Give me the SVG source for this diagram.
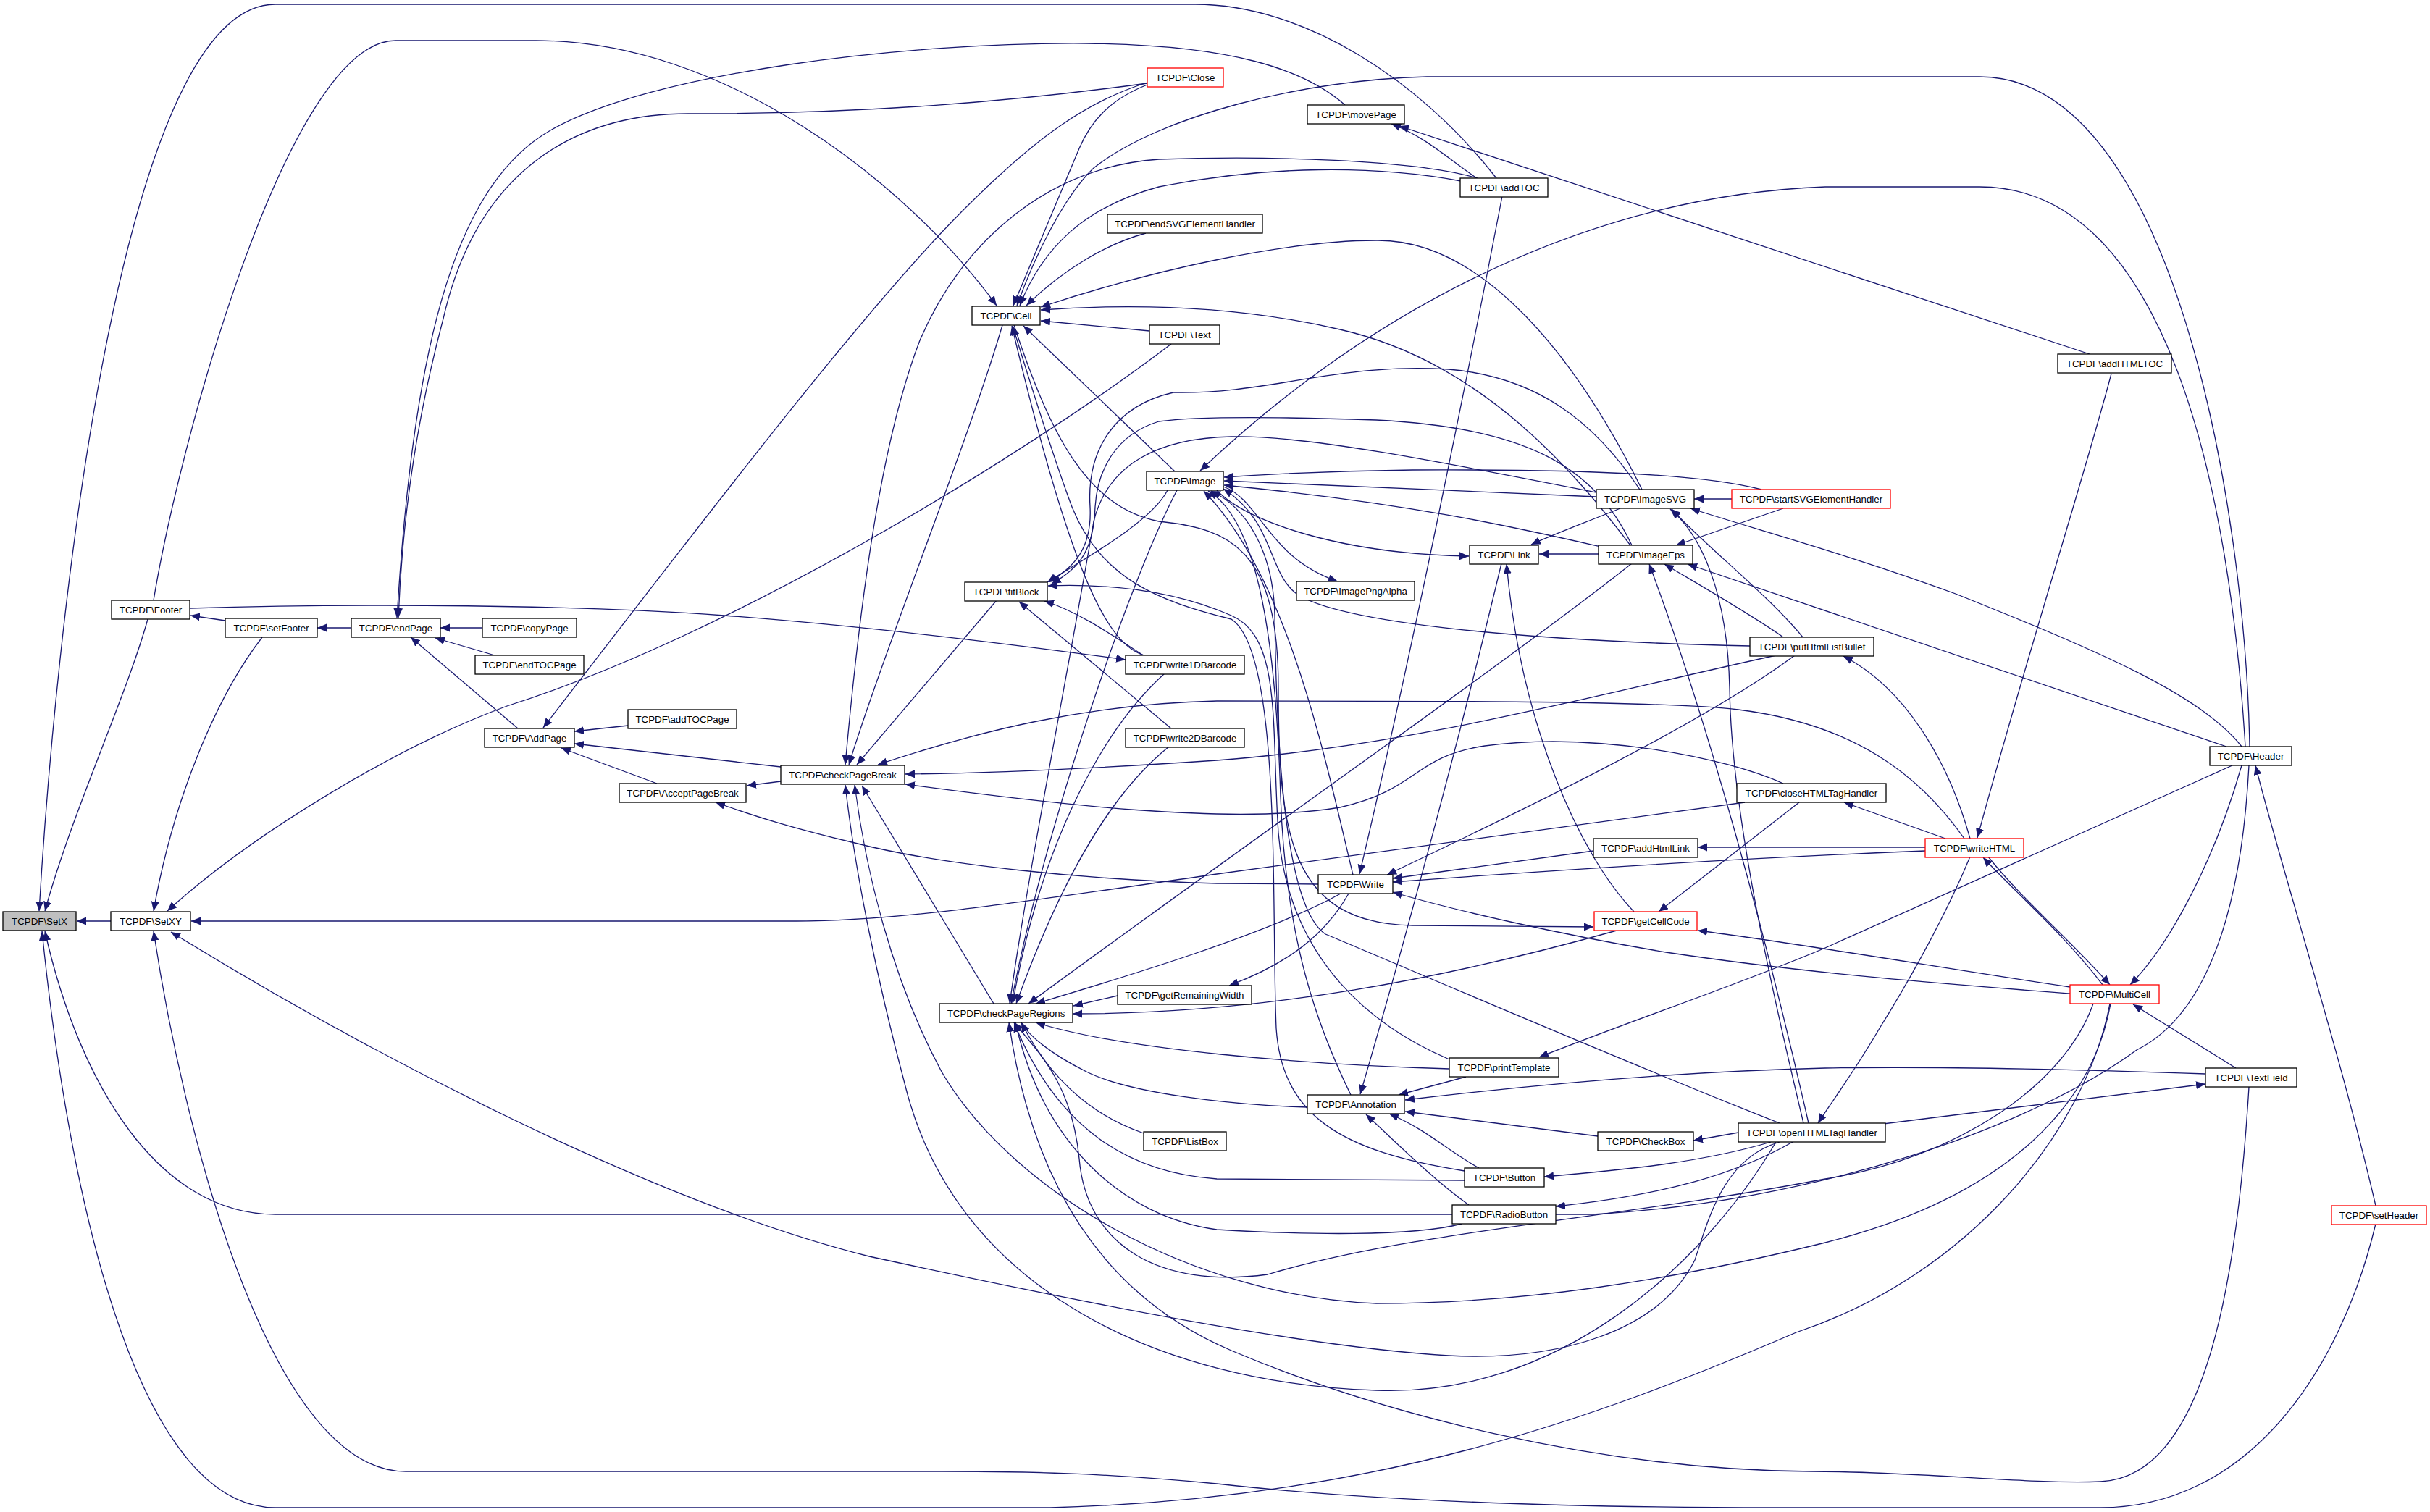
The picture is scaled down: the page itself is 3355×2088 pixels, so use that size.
<svg xmlns="http://www.w3.org/2000/svg" width="3355" height="2088" viewBox="0 0 3355 2088">
<defs>
<marker id="a" markerUnits="userSpaceOnUse" markerWidth="14" markerHeight="12" refX="13" refY="5.5" orient="auto" viewBox="0 0 14 12"><path d="M0,0 L13,5.5 L0,11 z" fill="#191970"/></marker>
<style>
.n rect{fill:#fff;stroke:#000;stroke-width:1.3}
.r rect{fill:#fff;stroke:#ff0000;stroke-width:1.3}
.g rect{fill:#bfbfbf;stroke:#000;stroke-width:1.3}
text{font-family:"Liberation Sans",Arial,sans-serif;font-size:13.3px;text-anchor:middle;fill:#000}
#edges path{fill:none;stroke:#191970;stroke-width:1.3;marker-end:url(#a)}
</style>
</defs>
<rect width="3355" height="2088" fill="#fff"/>
<g id="edges">
<path d="M153,1272 L106,1272"/>
<path d="M204,855 C175,960 100,1120 62,1258"/>
<path d="M2066,246 C1960,110 1800,6 1650,6 L380,6 C160,6 75,900 54,1258"/>
<path d="M3105,1057 C3095,1250 3050,1400 2950,1450 C2800,1560 2500,1660 2200,1677 L380,1677 C220,1677 110,1500 62,1286"/>
<path d="M2913,1386 C2880,1560 2720,1760 2480,1840 C2200,1960 1900,2070 1450,2082 L380,2082 C200,2082 100,1700 58,1286"/>
<path d="M3280,1690 C3230,1900 3100,2082 2900,2082 L2450,2082 C2100,2082 1850,2068 1680,2049 C1520,2034 1420,2032 1300,2032 L560,2032 C380,2032 260,1600 212,1286"/>
<path d="M212,829 C250,600 400,56 546,56 L740,56 C1000,56 1250,250 1376,422"/>
<path d="M311,857 L263,850"/>
<path d="M485,867 L438,867"/>
<path d="M666,867 L608,867"/>
<path d="M683,905 L601,881"/>
<path d="M715,1006 L567,880"/>
<path d="M1857,145 C1800,95 1700,62 1500,60 C1250,58 900,100 760,180 C620,260 570,500 548,853"/>
<path d="M1584,115 C1400,140 1200,157 950,157 C800,157 660,230 612,440 C580,560 556,700 550,853"/>
<path d="M362,880 C300,960 240,1100 212,1258"/>
<path d="M1617,475 C1400,640 1000,880 700,975 C550,1030 350,1150 231,1258"/>
<path d="M2409,1108 L1680,1207 C1450,1240 1250,1272 1100,1272 L264,1272"/>
<path d="M2457,1577 C2380,1600 2360,1680 2340,1740 C2290,1840 2150,1880 2000,1872 C1800,1860 1500,1800 1200,1735 C900,1660 500,1450 236,1287"/>
<path d="M1584,117 C1530,138 1505,170 1490,205 L1399,422"/>
<path d="M1584,114 C1500,140 1430,190 1330,290 C1200,420 1000,680 750,1005"/>
<path d="M3106,1031 C3100,700 3000,106 2733,106 L1970,106 C1800,110 1600,160 1510,232 C1470,270 1430,350 1404,422"/>
<path d="M3100,1031 C3080,700 3000,258 2733,258 L2520,258 C2200,270 1900,420 1657,650"/>
<path d="M2017,250 C1900,228 1750,228 1600,258 C1500,285 1440,340 1408,422"/>
<path d="M2040,246 C1950,220 1750,215 1600,220 C1450,230 1330,330 1270,470 C1220,600 1190,800 1167,1056"/>
<path d="M2267,676 C2180,500 2050,330 1900,332 C1780,332 1600,370 1437,424"/>
<path d="M1582,322 C1530,336 1470,370 1417,422"/>
<path d="M2251,753 C2180,660 2050,500 1850,455 C1700,420 1550,420 1437,428"/>
<path d="M1587,457 L1437,443"/>
<path d="M1622,651 L1413,450"/>
<path d="M1384,449 C1340,600 1220,900 1172,1056"/>
<path d="M1400,449 C1450,600 1500,700 1600,720 C1700,730 1765,760 1765,950 C1765,1150 1780,1275 1950,1278 L2200,1280"/>
<path d="M1580,905 C1530,890 1480,800 1397,450"/>
<path d="M1376,829 L1183,1056"/>
<path d="M2712,1158 C2650,1070 2560,1000 2400,980 C2300,968 2000,968 1680,968 C1500,972 1350,1010 1212,1056"/>
<path d="M2452,905 C2200,960 1950,1030 1680,1050 C1500,1062 1350,1068 1250,1069"/>
<path d="M2462,1082 C2380,1045 2200,1010 2050,1030 C1950,1045 1960,1090 1850,1115 C1700,1140 1450,1110 1250,1083"/>
<path d="M2452,1577 C2350,1750 2150,1930 1900,1920 C1600,1910 1320,1780 1250,1500 C1210,1350 1180,1200 1167,1084"/>
<path d="M2914,1386 C2890,1520 2780,1650 2520,1716 C2300,1770 2100,1800 1900,1800 C1650,1790 1400,1650 1300,1480 C1230,1350 1195,1200 1180,1084"/>
<path d="M1372,1386 L1190,1085"/>
<path d="M867,1002 L793,1010"/>
<path d="M1078,1059 L793,1027"/>
<path d="M907,1082 L775,1033"/>
<path d="M1078,1079 L1031,1085"/>
<path d="M1820,1221 L1680,1220 C1500,1215 1300,1195 1180,1164 C1100,1145 1050,1130 988,1108"/>
<path d="M2001,1463 C1900,1420 1780,1330 1765,1150 C1755,1000 1770,880 1700,850 C1620,815 1530,806 1447,809"/>
<path d="M1612,677 C1590,720 1500,770 1446,804"/>
<path d="M2264,676 C2200,580 2120,520 2000,510 C1850,500 1750,545 1620,542 C1540,560 1500,620 1505,700 C1508,760 1480,785 1448,804"/>
<path d="M2253,753 C2200,640 2100,590 1900,580 C1750,575 1650,575 1600,582 C1540,600 1515,650 1512,700 C1510,760 1490,785 1452,806"/>
<path d="M1580,906 C1540,880 1490,845 1442,830"/>
<path d="M1617,1006 L1407,831"/>
<path d="M2432,676 C2350,655 2200,648 1950,649 C1850,650 1750,655 1690,659"/>
<path d="M2204,686 L1690,664"/>
<path d="M2210,755 C2100,730 1950,695 1690,670"/>
<path d="M2416,892 C2100,885 1850,860 1790,820 C1750,790 1760,720 1689,675"/>
<path d="M1868,1208 C1830,1050 1780,800 1662,678"/>
<path d="M1680,677 C1720,720 1850,765 2028,768"/>
<path d="M2237,702 C2180,725 2140,740 2114,752"/>
<path d="M2207,765 L2125,765"/>
<path d="M2256,1259 C2180,1180 2100,1000 2080,779"/>
<path d="M2073,778 C2020,1000 1940,1300 1878,1511"/>
<path d="M2024,1487 L1931,1512"/>
<path d="M3045,1483 C2900,1478 2700,1472 2520,1475 C2300,1480 2100,1500 1940,1519"/>
<path d="M2206,1569 L1940,1535"/>
<path d="M2042,1613 C2000,1590 1970,1560 1918,1538"/>
<path d="M2028,1664 C1980,1630 1930,1580 1886,1539"/>
<path d="M1543,1375 L1482,1389"/>
<path d="M1862,1234 C1830,1290 1780,1330 1697,1361"/>
<path d="M2903,1360 C2850,1290 2780,1230 2738,1184"/>
<path d="M2745,1183 C2790,1240 2860,1300 2913,1360"/>
<path d="M2720,1158 C2690,1050 2630,950 2545,906"/>
<path d="M2686,1158 L2546,1108"/>
<path d="M2658,1170 L2344,1170"/>
<path d="M2658,1175 C2400,1185 2100,1205 1923,1218"/>
<path d="M2915,516 C2880,650 2800,900 2730,1157"/>
<path d="M2885,489 L1932,174"/>
<path d="M2039,246 C2000,220 1970,190 1921,171"/>
<path d="M2720,1183 C2680,1280 2620,1380 2595,1420 C2560,1480 2530,1520 2510,1551"/>
<path d="M2858,1363 C2700,1340 2500,1305 2344,1285"/>
<path d="M2858,1372 C2700,1360 2500,1345 2300,1315 C2150,1290 2000,1255 1923,1232"/>
<path d="M3082,1057 L2520,1309 C2400,1360 2250,1410 2125,1460"/>
<path d="M3095,1057 C3060,1180 3000,1300 2941,1360"/>
<path d="M3095,1031 C3040,960 2900,900 2700,820 C2550,765 2420,730 2334,702"/>
<path d="M3074,1031 L2330,779"/>
<path d="M3280,1665 C3230,1450 3150,1200 3114,1057"/>
<path d="M3087,1475 L2945,1387"/>
<path d="M2600,1552 L3045,1497"/>
<path d="M3105,1501 C3090,1750 3050,2040 2900,2046 C2800,2050 2650,2032 2500,2032 C2200,2030 1900,1950 1700,1865 C1500,1780 1420,1600 1393,1412"/>
<path d="M1579,1565 C1530,1548 1460,1510 1410,1412"/>
<path d="M1805,1529 C1700,1526 1560,1510 1500,1480 C1450,1455 1420,1430 1410,1412"/>
<path d="M2001,1476 C1800,1470 1550,1450 1430,1412"/>
<path d="M2022,1630 L1680,1628 C1560,1620 1460,1560 1400,1412"/>
<path d="M2018,1690 C1950,1708 1800,1705 1680,1698 C1550,1680 1440,1580 1402,1412"/>
<path d="M2890,1386 C2850,1500 2700,1600 2520,1628 C2250,1680 1950,1700 1750,1760 C1600,1780 1500,1720 1490,1600 C1480,1500 1440,1460 1400,1412"/>
<path d="M2484,1108 L2290,1259"/>
<path d="M2232,1285 C2000,1350 1750,1400 1481,1400"/>
<path d="M2253,778 C2100,900 1700,1180 1420,1386"/>
<path d="M2204,680 C2000,640 1800,600 1700,603 C1600,605 1530,640 1510,720 C1480,900 1420,1200 1394,1386"/>
<path d="M1625,677 C1560,800 1440,1150 1396,1386"/>
<path d="M1851,1234 C1750,1290 1550,1350 1430,1386"/>
<path d="M1608,930 C1530,1000 1440,1150 1398,1386"/>
<path d="M1614,1031 C1540,1090 1470,1200 1403,1386"/>
<path d="M1689,672 C1740,690 1750,770 1847,803"/>
<path d="M2391,689 L2339,689"/>
<path d="M2462,702 L2314,753"/>
<path d="M2462,880 C2420,850 2350,810 2298,779"/>
<path d="M2489,880 C2440,820 2350,750 2308,703"/>
<path d="M2478,905 C2350,1000 2100,1120 1915,1208"/>
<path d="M2200,1175 L1923,1213"/>
<path d="M262,840 C500,833 800,835 1000,850 C1200,865 1400,890 1554,911"/>
<path d="M2400,1564 L2338,1575"/>
<path d="M2445,1577 C2350,1605 2250,1615 2132,1625"/>
<path d="M2475,1577 C2400,1620 2300,1650 2148,1666"/>
<path d="M2497,1551 C2440,1300 2360,1000 2277,779"/>
<path d="M2490,1551 C2430,1300 2390,1100 2388,950 C2385,820 2350,740 2306,703"/>
<path d="M2074,271 C2030,500 1950,900 1877,1207"/>
<path d="M2022,1617 C1850,1590 1770,1540 1762,1420 C1755,1250 1770,900 1700,855 C1600,830 1520,800 1480,700 C1450,620 1420,520 1398,450"/>
<path d="M1865,1512 C1820,1420 1775,1300 1768,1100 C1762,900 1740,720 1668,678"/>
<path d="M2457,1551 C2250,1470 1950,1340 1830,1290 C1770,1250 1762,1000 1760,850 C1758,760 1720,700 1672,678"/>
</g>
<g id="n_SetX" class="g"><rect x="4" y="1259" width="101" height="26"/><text x="54.5" y="1276.8">TCPDF\SetX</text></g>
<g id="n_SetXY" class="n"><rect x="153" y="1259" width="110" height="26"/><text x="208" y="1276.8">TCPDF\SetXY</text></g>
<g id="n_Footer" class="n"><rect x="154" y="829" width="108" height="26"/><text x="208" y="846.8">TCPDF\Footer</text></g>
<g id="n_setFooter" class="n"><rect x="311" y="854" width="127" height="26"/><text x="374.5" y="871.8">TCPDF\setFooter</text></g>
<g id="n_endPage" class="n"><rect x="485" y="854" width="123" height="26"/><text x="546.5" y="871.8">TCPDF\endPage</text></g>
<g id="n_copyPage" class="n"><rect x="666" y="854" width="130" height="26"/><text x="731" y="871.8">TCPDF\copyPage</text></g>
<g id="n_endTOCPage" class="n"><rect x="656" y="905" width="150" height="26"/><text x="731" y="922.8">TCPDF\endTOCPage</text></g>
<g id="n_AddPage" class="n"><rect x="669" y="1006" width="124" height="26"/><text x="731" y="1023.8">TCPDF\AddPage</text></g>
<g id="n_addTOCPage" class="n"><rect x="867" y="980" width="150" height="26"/><text x="942" y="997.8">TCPDF\addTOCPage</text></g>
<g id="n_AcceptPageBreak" class="n"><rect x="855" y="1082" width="175" height="26"/><text x="942.5" y="1099.8">TCPDF\AcceptPageBreak</text></g>
<g id="n_checkPageBreak" class="n"><rect x="1078" y="1057" width="171" height="26"/><text x="1163.5" y="1074.8">TCPDF\checkPageBreak</text></g>
<g id="n_Cell" class="n"><rect x="1342" y="423" width="94" height="26"/><text x="1389" y="440.8">TCPDF\Cell</text></g>
<g id="n_Close" class="r"><rect x="1584" y="94" width="105" height="26"/><text x="1636.5" y="111.8">TCPDF\Close</text></g>
<g id="n_movePage" class="n"><rect x="1805" y="145" width="134" height="26"/><text x="1872" y="162.8">TCPDF\movePage</text></g>
<g id="n_addTOC" class="n"><rect x="2016" y="246" width="121" height="26"/><text x="2076.5" y="263.8">TCPDF\addTOC</text></g>
<g id="n_endSVGElementHandler" class="n"><rect x="1529" y="296" width="214" height="26"/><text x="1636" y="313.8">TCPDF\endSVGElementHandler</text></g>
<g id="n_Text" class="n"><rect x="1587" y="449" width="97" height="26"/><text x="1635.5" y="466.8">TCPDF\Text</text></g>
<g id="n_Image" class="n"><rect x="1583" y="651" width="106" height="26"/><text x="1636" y="668.8">TCPDF\Image</text></g>
<g id="n_fitBlock" class="n"><rect x="1332" y="804" width="114" height="26"/><text x="1389" y="821.8">TCPDF\fitBlock</text></g>
<g id="n_write1DBarcode" class="n"><rect x="1554" y="905" width="164" height="26"/><text x="1636" y="922.8">TCPDF\write1DBarcode</text></g>
<g id="n_write2DBarcode" class="n"><rect x="1554" y="1006" width="164" height="26"/><text x="1636" y="1023.8">TCPDF\write2DBarcode</text></g>
<g id="n_ImagePngAlpha" class="n"><rect x="1790" y="803" width="163" height="26"/><text x="1871.5" y="820.8">TCPDF\ImagePngAlpha</text></g>
<g id="n_Link" class="n"><rect x="2029" y="753" width="95" height="26"/><text x="2076.5" y="770.8">TCPDF\Link</text></g>
<g id="n_ImageSVG" class="n"><rect x="2204" y="676" width="135" height="26"/><text x="2271.5" y="693.8">TCPDF\ImageSVG</text></g>
<g id="n_ImageEps" class="n"><rect x="2207" y="753" width="130" height="26"/><text x="2272" y="770.8">TCPDF\ImageEps</text></g>
<g id="n_startSVGElementHandler" class="r"><rect x="2391" y="676" width="219" height="26"/><text x="2500.5" y="693.8">TCPDF\startSVGElementHandler</text></g>
<g id="n_putHtmlListBullet" class="n"><rect x="2416" y="880" width="171" height="26"/><text x="2501.5" y="897.8">TCPDF\putHtmlListBullet</text></g>
<g id="n_closeHTMLTagHandler" class="n"><rect x="2398" y="1082" width="206" height="26"/><text x="2501" y="1099.8">TCPDF\closeHTMLTagHandler</text></g>
<g id="n_addHtmlLink" class="n"><rect x="2200" y="1158" width="144" height="26"/><text x="2272" y="1175.8">TCPDF\addHtmlLink</text></g>
<g id="n_Write" class="n"><rect x="1820" y="1208" width="103" height="26"/><text x="1871.5" y="1225.8">TCPDF\Write</text></g>
<g id="n_getCellCode" class="r"><rect x="2201" y="1259" width="142" height="26"/><text x="2272" y="1276.8">TCPDF\getCellCode</text></g>
<g id="n_getRemainingWidth" class="n"><rect x="1543" y="1361" width="185" height="26"/><text x="1635.5" y="1378.8">TCPDF\getRemainingWidth</text></g>
<g id="n_checkPageRegions" class="n"><rect x="1297" y="1386" width="184" height="26"/><text x="1389" y="1403.8">TCPDF\checkPageRegions</text></g>
<g id="n_printTemplate" class="n"><rect x="2001" y="1461" width="151" height="26"/><text x="2076.5" y="1478.8">TCPDF\printTemplate</text></g>
<g id="n_Annotation" class="n"><rect x="1805" y="1512" width="134" height="26"/><text x="1872" y="1529.8">TCPDF\Annotation</text></g>
<g id="n_ListBox" class="n"><rect x="1579" y="1563" width="114" height="26"/><text x="1636" y="1580.8">TCPDF\ListBox</text></g>
<g id="n_CheckBox" class="n"><rect x="2206" y="1563" width="132" height="26"/><text x="2272" y="1580.8">TCPDF\CheckBox</text></g>
<g id="n_openHTMLTagHandler" class="n"><rect x="2400" y="1551" width="203" height="26"/><text x="2501.5" y="1568.8">TCPDF\openHTMLTagHandler</text></g>
<g id="n_Button" class="n"><rect x="2022" y="1613" width="110" height="26"/><text x="2077" y="1630.8">TCPDF\Button</text></g>
<g id="n_RadioButton" class="n"><rect x="2005" y="1664" width="143" height="26"/><text x="2076.5" y="1681.8">TCPDF\RadioButton</text></g>
<g id="n_addHTMLTOC" class="n"><rect x="2841" y="489" width="157" height="26"/><text x="2919.5" y="506.8">TCPDF\addHTMLTOC</text></g>
<g id="n_Header" class="n"><rect x="3051" y="1031" width="113" height="26"/><text x="3107.5" y="1048.8">TCPDF\Header</text></g>
<g id="n_writeHTML" class="r"><rect x="2658" y="1158" width="136" height="26"/><text x="2726" y="1175.8">TCPDF\writeHTML</text></g>
<g id="n_MultiCell" class="r"><rect x="2858" y="1360" width="123" height="26"/><text x="2919.5" y="1377.8">TCPDF\MultiCell</text></g>
<g id="n_TextField" class="n"><rect x="3045" y="1475" width="126" height="26"/><text x="3108" y="1492.8">TCPDF\TextField</text></g>
<g id="n_setHeader" class="r"><rect x="3219" y="1665" width="131" height="26"/><text x="3284.5" y="1682.8">TCPDF\setHeader</text></g>
</svg>
